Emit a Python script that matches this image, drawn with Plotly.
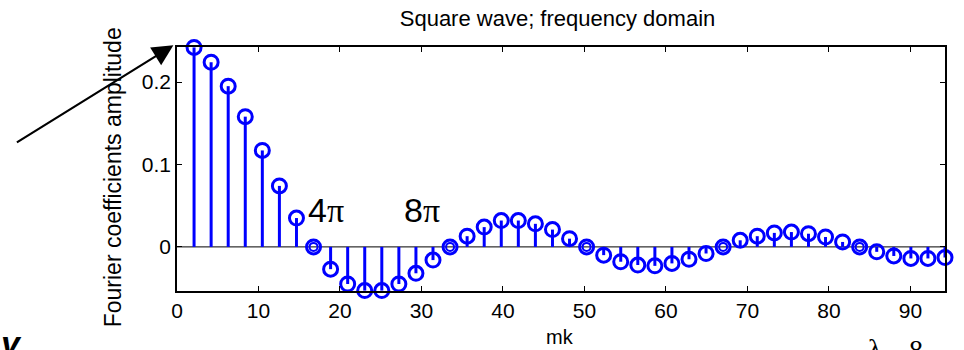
import plotly.graph_objects as go

# frequency positions (mk) and Fourier coefficient amplitudes
mk = [2.094, 4.189, 6.283, 8.378, 10.472, 12.566, 14.661, 16.755, 18.850, 20.944,
      23.038, 25.133, 27.227, 29.322, 31.416, 33.510, 35.605, 37.699, 39.794, 41.888,
      43.982, 46.077, 48.171, 50.265, 52.360, 54.454, 56.549, 58.643, 60.737, 62.832,
      64.926, 67.021, 69.115, 71.209, 73.304, 75.398, 77.493, 79.587, 81.681, 83.776,
      85.870, 87.965, 90.059, 92.153, 94.248]
amplitude = [0.242, 0.224, 0.195, 0.158, 0.117, 0.074, 0.035, 0.0,
             -0.027, -0.045, -0.053, -0.053, -0.045, -0.032, -0.016, 0.0,
             0.013, 0.024, 0.032, 0.032, 0.028, 0.021, 0.010, 0.0,
             -0.010, -0.018, -0.022, -0.023, -0.020, -0.015, -0.008, 0.0,
             0.008, 0.013, 0.017, 0.018, 0.016, 0.012, 0.006, 0.0,
             -0.006, -0.011, -0.014, -0.014, -0.013]
x_ticks = [0, 10, 20, 30, 40, 50, 60, 70, 80, 90]
y_ticks = [0, 0.1, 0.2]
y_tick_labels = ["0", "0.1", "0.2"]

BLUE = "#0000ff"
FONT = "Liberation Sans, Arial, sans-serif"

fig = go.Figure()

# baseline
fig.add_trace(go.Scatter(x=[0, mk[-1]], y=[0, 0], mode="lines",
                         line=dict(color="black", width=1), hoverinfo="skip",
                         showlegend=False))

# stems
sx, sy = [], []
for xv, yv in zip(mk, amplitude):
    sx += [xv, xv, None]
    sy += [0, yv, None]
fig.add_trace(go.Scatter(x=sx, y=sy, mode="lines", line=dict(color=BLUE, width=3),
                         showlegend=False, cliponaxis=False, hoverinfo="skip"))

# markers
fig.add_trace(go.Scatter(x=mk, y=amplitude, mode="markers",
                         marker=dict(symbol="circle-open", size=14,
                                     line=dict(color=BLUE, width=3), color=BLUE),
                         showlegend=False, cliponaxis=False))

# zero-valued points look doubled in the original
zx = [xv for xv, yv in zip(mk, amplitude) if yv == 0]
zy = [0 for _ in zx]
fig.add_trace(go.Scatter(x=zx, y=zy, mode="markers",
                         marker=dict(symbol="circle-open", size=8, color=BLUE,
                                     line=dict(color=BLUE, width=2)),
                         showlegend=False, cliponaxis=False, hoverinfo="skip"))

axis_common = dict(showline=True, linecolor="black", linewidth=1.5, mirror="ticks",
                   ticks="inside", ticklen=5, tickwidth=1, tickcolor="black",
                   showgrid=False, zeroline=False,
                   tickfont=dict(family=FONT, size=21, color="black"))

fig.update_xaxes(range=[0, mk[-1]], tickvals=x_ticks, **axis_common)
fig.update_yaxes(range=[-0.0535, 0.2425], tickvals=y_ticks, ticktext=y_tick_labels,
                 **axis_common)

annotations = [
    dict(text="Fourier coefficients amplitude", xref="paper", yref="paper",
         x=-0.084, y=0.468, textangle=-90, showarrow=False,
         font=dict(family=FONT, size=23, color="black"), xanchor="center", yanchor="middle"),
    dict(text="mk", xref="paper", yref="paper", x=(560 - 176.6) / 768.4,
         y=(290.7 - 337) / 244,
         showarrow=False, font=dict(family=FONT, size=20, color="black"),
         xanchor="center", yanchor="middle"),
    dict(text="4<span style='font-family:Liberation Serif'>π</span>", xref="x", yref="y",
         x=18.3, y=0.0445, showarrow=False,
         font=dict(family=FONT, size=34, color="black"), xanchor="center", yanchor="middle"),
    dict(text="8<span style='font-family:Liberation Serif'>π</span>", xref="x", yref="y",
         x=30.1, y=0.0445, showarrow=False,
         font=dict(family=FONT, size=34, color="black"), xanchor="center", yanchor="middle"),
    dict(text="", xref="paper", yref="paper", x=(173 - 176.6) / 768.4, y=(290.7 - 45) / 244,
         ax=-158, ay=98, axref="pixel", ayref="pixel", showarrow=True,
         arrowhead=2, arrowsize=1.9, arrowwidth=2.2, arrowcolor="black"),
    dict(text="<b><i>y</i></b>", xref="paper", yref="paper", x=(-3 - 176.6) / 768.4,
         y=(290.7 - 322) / 244, showarrow=False, xanchor="left", yanchor="top",
         font=dict(family="Liberation Sans", size=34, color="black")),
    dict(text="λ", xref="paper", yref="paper", x=(866 - 176.6) / 768.4,
         y=(290.7 - 331) / 244, showarrow=False, xanchor="left", yanchor="top",
         font=dict(family="Liberation Serif", size=28, color="black")),
    dict(text="8", xref="paper", yref="paper", x=(907 - 176.6) / 768.4,
         y=(290.7 - 332) / 244, showarrow=False, xanchor="left", yanchor="top",
         font=dict(family="Liberation Serif", size=28, color="black")),
]

fig.update_layout(
    width=964, height=350,
    margin=dict(l=177, r=19, t=47, b=59),
    paper_bgcolor="white", plot_bgcolor="white",
    title=dict(text="Square wave; frequency domain", xref="container", yref="container",
               x=557.5 / 964, y=1 - 18 / 350, xanchor="center", yanchor="middle",
               font=dict(family=FONT, size=22, color="black")),
    annotations=annotations,
    showlegend=False,
)

fig.write_html("out.html")
